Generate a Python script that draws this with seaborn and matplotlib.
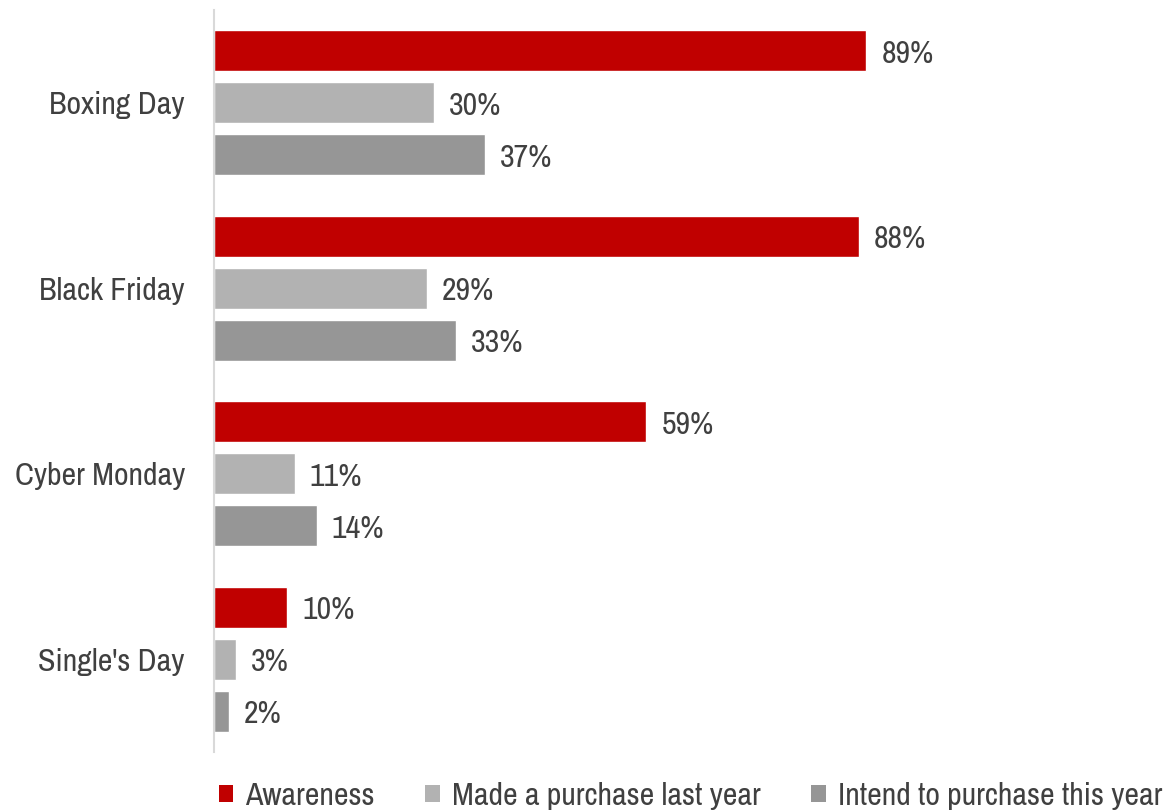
import matplotlib
matplotlib.use("Agg")
import matplotlib.pyplot as plt
import seaborn as sns
import pandas as pd
from matplotlib.patches import Patch
from matplotlib import font_manager

categories = ["Boxing Day", "Black Friday", "Cyber Monday", "Single's Day"]
series_names = ["Awareness", "Made a purchase last year", "Intend to purchase this year"]
awareness = [89, 88, 59, 10]
purchased_last_year = [30, 29, 11, 3]
intend_this_year = [37, 33, 14, 2]
colors = ["#C00000", "#B2B2B2", "#969696"]

rows = []
for name, vals in zip(series_names, [awareness, purchased_last_year, intend_this_year]):
    for c, v in zip(categories, vals):
        rows.append({"Event": c, "Series": name, "Value": v})
df = pd.DataFrame(rows)

sns.set_theme(style="white")

# look for a narrow / condensed sans font
narrow_path = None
for f in font_manager.fontManager.ttflist:
    n = f.name.lower()
    fn = f.fname.lower()
    if ("narrow" in n or "narrow" in fn) and "bold" not in fn and "italic" not in fn:
        narrow_path = f.fname
        break
if narrow_path is None:
    for f in font_manager.fontManager.ttflist:
        fn = f.fname.lower()
        if "condensed" in fn and "sans" in fn and "bold" not in fn and "oblique" not in fn and "italic" not in fn and "mono" not in fn:
            narrow_path = f.fname
            break

if narrow_path:
    fp = font_manager.FontProperties(fname=narrow_path)
    fam = fp.get_name()
    plt.rcParams["font.family"] = [fam, "DejaVu Sans"]
    fs = 23
else:
    plt.rcParams["font.family"] = ["Liberation Sans", "DejaVu Sans"]
    fs = 18

fig = plt.figure(figsize=(11.68, 8.11), dpi=100)
ax = fig.add_axes([214/1168, 1-752/811, 733/1168, 742/811])

sns.barplot(data=df, y="Event", x="Value", hue="Series", order=categories,
            hue_order=series_names, palette=colors, orient="h",
            width=0.843, gap=0.21, ax=ax, legend=False, saturation=1)

text_color = "#404040"
for cont in ax.containers:
    for bar in cont:
        w = bar.get_width()
        y = bar.get_y() + bar.get_height()/2
        ax.annotate(f"{w:.0f}%", xy=(w, y), xytext=(15, -3), textcoords="offset pixels",
                    va="center", ha="left", fontsize=fs, color=text_color)

ax.set_xlim(0, 100)
ax.set_ylim(3.5, -0.5)
ax.set_xlabel("")
ax.set_ylabel("")
ax.set_xticks([])
for s in ["top", "right", "bottom"]:
    ax.spines[s].set_visible(False)
ax.spines["left"].set_color("#D9D9D9")
ax.spines["left"].set_linewidth(1.5)
ax.tick_params(axis="y", length=0, pad=21, labelsize=fs, labelcolor=text_color)

handles = [Patch(facecolor=c, edgecolor="none") for c in colors]
fig.legend(handles, series_names, loc="center", bbox_to_anchor=(0.591, 1-796/811), ncol=3,
           frameon=False, fontsize=fs, labelcolor=text_color, handlelength=0.45, handleheight=0.45,
           handletextpad=0.37, columnspacing=1.6)

fig.savefig("out.png", dpi=100)
